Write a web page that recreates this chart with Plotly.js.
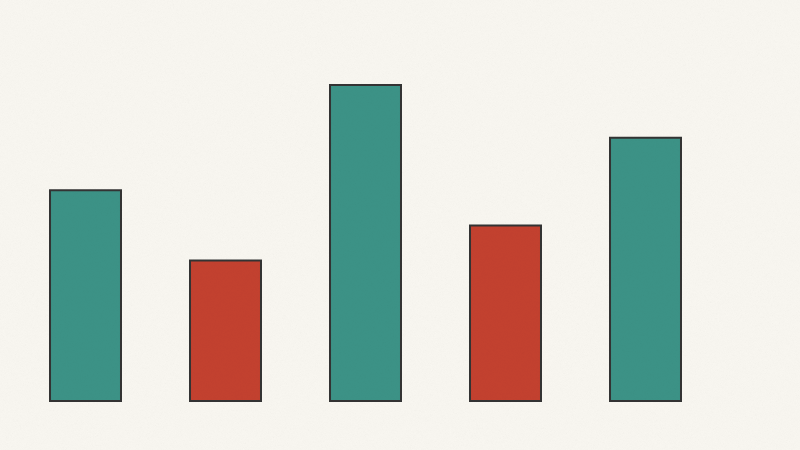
<!DOCTYPE html>
<html>
<head>
<meta charset="utf-8">
<script src="https://cdn.plot.ly/plotly-3.0.1.min.js"></script>
<style>
  html, body { margin: 0; padding: 0; background: #f9f7f1; }
  #wrap { position: relative; width: 800px; height: 450px; }
  #chart { width: 800px; height: 450px; }
  #noise { position: absolute; left: 0; top: 0; width: 800px; height: 450px; pointer-events: none; opacity: 0.07; mix-blend-mode: multiply; }
</style>
</head>
<body>
<div id="wrap">
  <div id="chart"></div>
  <svg id="noise" width="800" height="450" xmlns="http://www.w3.org/2000/svg">
    <filter id="n"><feTurbulence type="fractalNoise" baseFrequency="1.4" numOctaves="2" stitchTiles="stitch"/><feColorMatrix type="saturate" values="0"/></filter>
    <rect width="800" height="450" filter="url(#n)"/>
  </svg>
</div>
<script>
const categories = ["A", "B", "C", "D", "E"];
const values = [60, 40, 90, 50, 75];
const barColors = ["#3c9387", "#c4412f", "#3c9387", "#c4412f", "#3c9387"];

const positions = categories.map((c, i) => i);

const trace = {
  type: "bar",
  x: positions,
  y: values,
  width: 0.507,
  marker: { color: barColors, line: { color: "#333333", width: 2 } },
  hoverinfo: "none"
};

const layout = {
  width: 800, height: 450,
  margin: { l: 0, r: 0, t: 0, b: 0 },
  paper_bgcolor: "rgba(0,0,0,0)",
  plot_bgcolor: "rgba(0,0,0,0)",
  showlegend: false,
  xaxis: { range: [-0.6107, 5.1036], visible: false, fixedrange: true },
  yaxis: { range: [-13.96, 114.2], visible: false, fixedrange: true }
};

Plotly.newPlot("chart", [trace], layout, { displayModeBar: false, staticPlot: true });
</script>
</body>
</html>
